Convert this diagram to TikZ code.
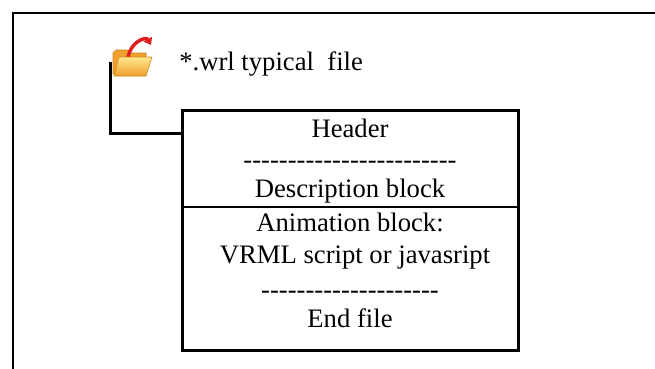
\documentclass[tikz,border=0pt]{standalone}
\usepackage{fontspec}
\setmainfont{Liberation Serif}
\usetikzlibrary{positioning,arrows.meta}

\definecolor{folderlight}{RGB}{255,232,140}
\definecolor{folderdark}{RGB}{240,160,45}
\definecolor{folderedge}{RGB}{200,135,30}
\definecolor{arrowred}{RGB}{225,30,30}

\newcommand\dashrow[1]{\foreach\k in {1,...,#1}{\hbox{-}}}

\begin{document}
\begin{tikzpicture}[x=0.75pt,y=-0.75pt]
  \tikzstyle{line}=[font=\fontsize{20}{24}\selectfont,inner sep=0pt,anchor=base]
  \tikzstyle{block}=[draw,line width=2.25pt,minimum width=252pt,minimum height=180pt,inner sep=0pt]
  \tikzstyle{link}=[line width=2.1pt]

  \useasboundingbox (0,0) rectangle (655,368);
  \clip (0,0) rectangle (655,368);

  % outer frame
  \draw[line width=1.2pt] (13,13) rectangle (700,420);

  % file box
  \node[block] (wrl) at (350,230) {};
  \coordinate (split) at (350,207);
  \draw[line width=1.4pt] (wrl.west |- split) -- (wrl.east |- split);

  \node[line] (head) at (350,137) {Header};
  \node[line] (dash1) at (350,168) {\dashrow{24}};
  \node[line] (desc) at (350,197) {Description block};
  \node[line] (anim) at (350,231) {Animation block:};
  \node[line] (vrml) at (355,263) {VRML script or javasript};
  \node[line] (dash2) at (350,298) {\dashrow{20}};
  \node[line] (end) at (350,327) {End file};

  % icon and title
  \node[minimum width=35pt,minimum height=29pt,inner sep=0pt] (folder) at (133.75,57.5) {};
  \node[line,anchor=base west] (title) at (179,70) {*.wrl typical\ \ file};

  \coordinate (hook) at (0,133.5);
  \draw[link] ([yshift=-3.4pt]folder.west) |- (wrl.west |- hook);

  % folder
  \fill[folderdark,draw=folderedge,line width=0.4pt] (113,53) -- (116,50) -- (128,50) -- (131,53)
    -- (146,53) -- (146,74) -- (113,74) -- cycle;
  \draw[arrowred,line width=2.6pt,-{Triangle[length=5pt,width=7pt]}]
    (128,58) .. controls (130,42) and (146,36) .. (151,45);
  \shade[top color=folderlight,bottom color=folderdark,draw=folderedge,line width=0.4pt]
    (119,57) -- (152,57) -- (146,76) -- (114,76) -- cycle;
\end{tikzpicture}
\end{document}
